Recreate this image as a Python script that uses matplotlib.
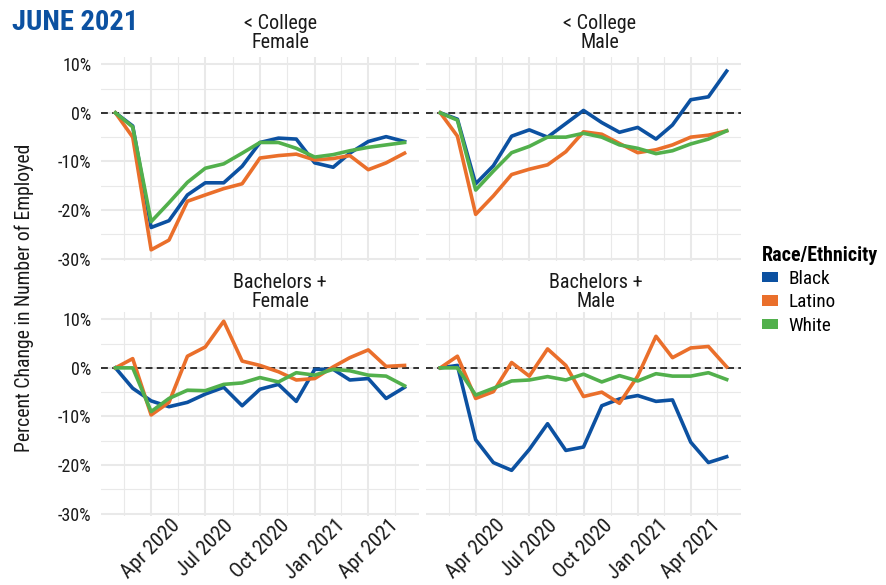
"""
Employment change by education, sex and race/ethnicity (June 2021)
"""

import numpy as np
import pandas as pd
import matplotlib
matplotlib.use("Agg")
import matplotlib.pyplot as plt
import matplotlib.dates as mdates
from matplotlib import font_manager as fm
from matplotlib.patches import Patch
from matplotlib.ticker import FixedLocator, FuncFormatter

# a narrow sans is closest to the original; take the first one that is installed
installed = {f.name for f in fm.fontManager.ttflist}
prefer = ['Liberation Sans Narrow', 'Arial Narrow', 'Roboto Condensed',
          'Barlow Semi Condensed', 'Asap Condensed', 'Liberation Sans']
narrow = next(n for n in prefer + ['DejaVu Sans'] if n in installed or n == 'DejaVu Sans')
plt.rcParams['font.family'] = [narrow, 'DejaVu Sans']

# months Feb 2020 .. Jun 2021
months = pd.date_range('2020-02-01', '2021-06-01', freq='MS')

groups = ['Black', 'Latino', 'White']
colors = {'Black': '#0c51a1', 'Latino': '#ea6f2b', 'White': '#52b04c'}

# < College, Female
lcf_black = [0, -2.7, -23.6, -22.2, -16.9, -14.4, -14.4, -11.0, -6.1, -5.2, -5.4, -10.3, -11.2, -8.3, -5.9, -4.9, -5.9]
lcf_latino = [0, -5.0, -28.2, -26.2, -18.2, -16.9, -15.6, -14.6, -9.3, -8.8, -8.5, -9.7, -9.4, -8.8, -11.7, -10.3, -8.3]
lcf_white = [0, -2.9, -22.4, -18.5, -14.3, -11.4, -10.5, -8.3, -6.1, -6.1, -7.3, -9.1, -8.6, -7.8, -7.1, -6.6, -6.1]

# < College, Male
lcm_black = [0, -1.3, -14.6, -10.9, -4.8, -3.5, -5.0, -2.2, 0.5, -2.0, -4.0, -3.0, -5.4, -2.5, 2.7, 3.3, 8.6]
lcm_latino = [0, -4.8, -20.9, -17.1, -12.7, -11.6, -10.7, -8.0, -3.9, -4.4, -6.3, -8.2, -7.6, -6.6, -5.0, -4.6, -3.7]
lcm_white = [0, -1.5, -15.9, -12.0, -8.2, -6.9, -5.0, -5.0, -4.2, -5.0, -6.6, -7.3, -8.4, -7.8, -6.4, -5.4, -3.7]

# Bachelors +, Female
baf_black = [0, -4.2, -6.8, -8.0, -7.1, -5.4, -4.0, -7.8, -4.4, -3.4, -6.9, -0.3, -0.3, -2.5, -2.2, -6.3, -4.0]
baf_latino = [0, 1.9, -9.7, -7.1, 2.4, 4.3, 9.6, 1.4, 0.5, -0.8, -2.5, -2.2, 0.2, 2.1, 3.7, 0.3, 0.5]
baf_white = [0, 0.0, -9.0, -6.3, -4.6, -4.7, -3.4, -3.1, -2.0, -2.9, -1.0, -1.5, -0.3, -0.6, -1.5, -1.7, -3.7]

# Bachelors +, Male
bam_black = [0, 0.5, -14.8, -19.5, -21.1, -16.8, -11.5, -17.0, -16.3, -7.8, -6.4, -5.7, -6.9, -6.6, -15.3, -19.5, -18.3]
bam_latino = [0, 2.4, -6.3, -4.9, 1.1, -1.7, 3.9, 0.5, -5.9, -5.0, -7.3, -1.7, 6.5, 2.1, 4.1, 4.4, 0.2]
bam_white = [0, 0.0, -5.6, -4.2, -2.7, -2.5, -1.8, -2.5, -1.3, -2.9, -1.6, -2.7, -1.2, -1.7, -1.7, -1.0, -2.4]

panels = [
    ('< College\nFemale', {'Black': lcf_black, 'Latino': lcf_latino, 'White': lcf_white}),
    ('< College\nMale', {'Black': lcm_black, 'Latino': lcm_latino, 'White': lcm_white}),
    ('Bachelors +\nFemale', {'Black': baf_black, 'Latino': baf_latino, 'White': baf_white}),
    ('Bachelors +\nMale', {'Black': bam_black, 'Latino': bam_latino, 'White': bam_white}),
]

y_ticks = [-30, -20, -10, 0, 10]
x_ticks = pd.to_datetime(['2020-04-01', '2020-07-01', '2020-10-01', '2021-01-01', '2021-04-01'])

W, H = 887, 585
fig = plt.figure(figsize=(W / 100, H / 100), dpi=100)

# panel boxes in pixels: left, top, right, bottom
boxes = [(101, 57, 419, 261), (426, 57, 741, 261),
         (101, 312, 419, 516), (426, 312, 741, 516)]
strip_x = [280, 600, 280, 596]
strip_y = [33, 33, 292, 292]

xnum = mdates.date2num(months)
span = xnum[-1] - xnum[0]
xmaj = mdates.date2num(x_ticks)
steps = np.diff(xmaj)
xminor = np.concatenate([[xmaj[0] - steps[0] / 2], xmaj[:-1] + steps / 2, [xmaj[-1] + steps[-1] / 2]])

grid_col = '#e9e9e9'

for i, ((title, series), box) in enumerate(zip(panels, boxes)):
    l, t, r, b = box
    ax = fig.add_axes([l / W, 1 - b / H, (r - l) / W, (b - t) / H])
    ax.set_xlim(xnum[0] - 0.05 * span, xnum[-1] + 0.05 * span)
    ax.set_ylim(-30.5, 11.5)
    ax.xaxis.set_major_locator(FixedLocator(xmaj))
    ax.xaxis.set_minor_locator(FixedLocator(xminor))
    ax.yaxis.set_major_locator(FixedLocator(y_ticks))
    ax.yaxis.set_minor_locator(FixedLocator([-25, -15, -5, 5]))
    ax.grid(which='major', color=grid_col, lw=1.5)
    ax.grid(which='minor', color=grid_col, lw=0.8)
    ax.set_axisbelow(True)
    for s in ax.spines.values():
        s.set_visible(False)
    ax.tick_params(which='both', length=0, labelsize=13, colors='#1a1a1a')

    ax.axhline(0, color='black', lw=1.1, ls=(0, (4.5, 2.8)), zorder=1)
    for g in groups:
        ax.plot(months, series[g], color=colors[g], lw=2.6, zorder=2)

    if i % 2 == 0:
        ax.yaxis.set_major_formatter(FuncFormatter(lambda v, p: f'{v:.0f}%'))
        ax.tick_params(axis='y', pad=7)
    else:
        ax.set_yticklabels([])
    if i >= 2:
        ax.set_xticklabels([d.strftime('%b %Y') for d in x_ticks], rotation=45,
                           ha='center', va='top', fontsize=15)
        ax.tick_params(axis='x', pad=0)
    else:
        ax.set_xticklabels([])

    fig.text(strip_x[i] / W, 1 - strip_y[i] / H, title, ha='center', va='center',
             fontsize=14.5, color='#1a1a1a', linespacing=1.05)

fig.text(12 / W, 1 - 22 / H, 'JUNE 2021', ha='left', va='center', fontsize=20.5,
         fontweight='bold', color='#0c51a1')

fig.text(24 / W, 1 - 298 / H, 'Percent Change in Number of Employed', rotation=90,
         ha='center', va='center', fontsize=14.2, color='#1a1a1a')

handles = [Patch(facecolor=colors[g], edgecolor='none', label=g) for g in groups]
leg = fig.legend(handles=handles, loc='upper left', bbox_to_anchor=(762 / W, 1 - 246 / H),
                 frameon=False, title='Race/Ethnicity', alignment='left',
                 title_fontproperties={'weight': 'bold', 'size': 14.4},
                 fontsize=13.8, handlelength=0.85, handleheight=0.45,
                 handletextpad=0.55, labelspacing=0.27, borderpad=0, borderaxespad=0)

fig.savefig('out.png', dpi=100)
